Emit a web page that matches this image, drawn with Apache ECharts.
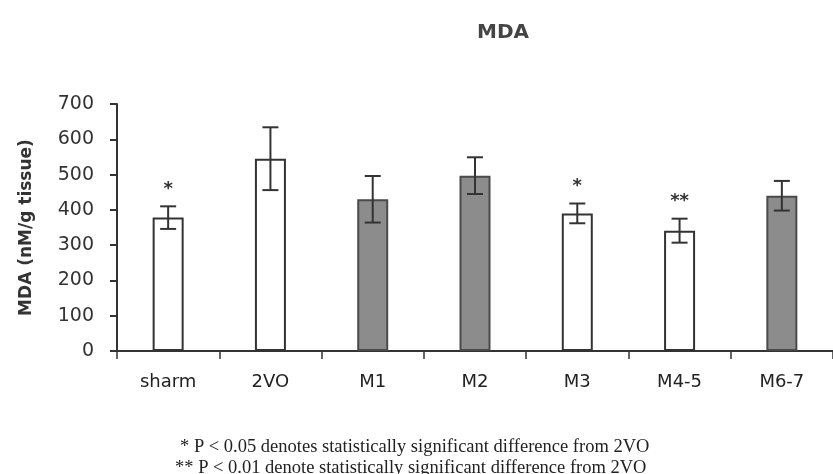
<!DOCTYPE html>
<html>
<head>
<meta charset="utf-8">
<script src="https://cdn.jsdelivr.net/npm/echarts@6/dist/echarts.min.js"></script>
<style>
  html, body { margin: 0; padding: 0; background: #fff; }
  #chart { width: 833px; height: 474px; }
</style>
</head>
<body>
<div id="chart"></div>
<script>
const categories = ['sharm', '2VO', 'M1', 'M2', 'M3', 'M4-5', 'M6-7'];
const means = [378, 545, 430, 497, 390, 341, 440];
const errors = [32, 89, 66, 52, 28, 34, 42];
const shaded = [false, false, true, true, false, false, true];
const marks = ['*', '', '', '', '*', '**', ''];
const yTicks = [0, 100, 200, 300, 400, 500, 600, 700];
const notes = [
    '* P < 0.05 denotes statistically significant difference from 2VO',
    '** P < 0.01 denote statistically significant difference from 2VO',
];

const myChart = echarts.init(document.getElementById('chart'));

const ink = '#333';
const handFont = '"DejaVu Sans", sans-serif';
const noteFont = '"Liberation Serif", serif';

const barData = means.map((v, i) => ({
    value: v,
    itemStyle: shaded[i]
        ? { color: '#8c8c8c', borderColor: '#4a4a4a', borderWidth: 2 }
        : { color: '#fff', borderColor: ink, borderWidth: 2 },
}));
const errData = means.map((v, i) => [i, v - errors[i], v + errors[i]]);

const option = {
    animation: false,
    backgroundColor: '#fff',
    title: {
        text: 'MDA',
        left: 498,
        top: 18,
        textAlign: 'center',
        textStyle: { fontFamily: handFont, fontSize: 20, fontWeight: 'bold', color: '#444' },
    },
    grid: { left: 117, right: -5, top: 104, bottom: 123, containLabel: false },
    xAxis: {
        type: 'category',
        data: categories,
        axisLine: { lineStyle: { color: ink, width: 2 } },
        axisTick: { show: true, length: 8, lineStyle: { color: ink, width: 1.5 } },
        axisLabel: { margin: 22, fontFamily: handFont, fontSize: 18, color: '#222' },
    },
    yAxis: {
        type: 'value',
        min: yTicks[0],
        max: yTicks[yTicks.length - 1],
        interval: 100,
        name: 'MDA (nM/g tissue)',
        nameLocation: 'middle',
        nameGap: 82,
        nameTextStyle: { fontFamily: handFont, fontSize: 17, fontWeight: 'bold', color: '#333' },
        axisLine: { show: true, lineStyle: { color: ink, width: 2 } },
        axisTick: { show: true, length: 7, lineStyle: { color: ink, width: 2 } },
        axisLabel: { margin: 23, fontFamily: handFont, fontSize: 19, color: '#333' },
        splitLine: { show: false },
    },
    series: [
        {
            type: 'bar',
            data: barData,
            barWidth: 31,
        },
        {
            type: 'custom',
            data: errData,
            z: 10,
            renderItem: (params, api) => {
                const i = api.value(0);
                const lo = api.coord([i, api.value(1)]);
                const hi = api.coord([i, api.value(2)]);
                const half = 8;
                const style = { stroke: ink, lineWidth: 2 };
                const children = [
                    { type: 'line', shape: { x1: hi[0], y1: hi[1], x2: lo[0], y2: lo[1] }, style },
                    { type: 'line', shape: { x1: hi[0] - half, y1: hi[1], x2: hi[0] + half, y2: hi[1] }, style },
                    { type: 'line', shape: { x1: lo[0] - half, y1: lo[1], x2: lo[0] + half, y2: lo[1] }, style },
                ];
                const mark = marks[params.dataIndex];
                if (mark) {
                    children.push({
                        type: 'text',
                        style: {
                            text: mark,
                            x: hi[0],
                            y: hi[1] - 8,
                            align: 'center',
                            verticalAlign: 'bottom',
                            fontFamily: handFont,
                            fontSize: 18,
                            fontWeight: 'bold',
                            fill: ink,
                        },
                    });
                }
                return { type: 'group', children };
            },
        },
    ],
    graphic: [
        {
            type: 'text',
            left: 180,
            top: 438,
            style: { text: notes[0], fontFamily: noteFont, fontSize: 18.5, fill: '#222' },
        },
        {
            type: 'text',
            left: 175,
            top: 459,
            style: { text: notes[1], fontFamily: noteFont, fontSize: 18.5, fill: '#222' },
        },
    ],
};
myChart.setOption(option);
</script>
</body>
</html>
